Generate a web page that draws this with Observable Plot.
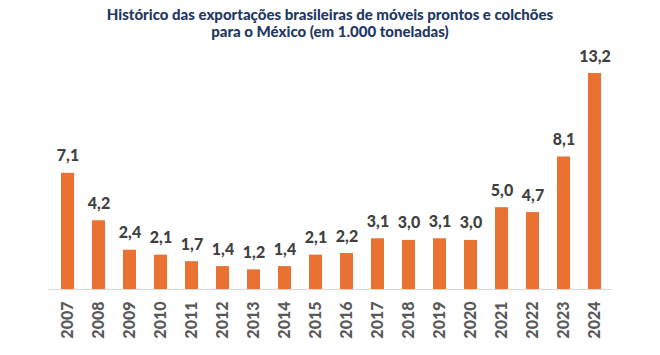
<!DOCTYPE html>
<html>
<head>
<meta charset="utf-8">
<script src="https://cdn.jsdelivr.net/npm/d3@7"></script>
<script src="https://cdn.jsdelivr.net/npm/@observablehq/plot@0.6"></script>
<style>
  html, body { margin: 0; padding: 0; background: #fff; }
  #wrap { width: 660px; height: 355px; overflow: hidden; }
  #title { height: 44px; box-sizing: border-box; padding-top: 6px; text-align: center; font-family: Lato, sans-serif; font-weight: 900; font-size: 15px; line-height: 17px; color: #1F3864; }
</style>
</head>
<body>
<div id="wrap">
  <div id="title">Histórico das exportações brasileiras de móveis prontos e colchões<br>para o México (em 1.000 toneladas)</div>
  <div id="chart"></div>
</div>
<script>
const years = ["2007","2008","2009","2010","2011","2012","2013","2014","2015","2016","2017","2018","2019","2020","2021","2022","2023","2024"];
const values = [7.1, 4.2, 2.4, 2.1, 1.7, 1.4, 1.2, 1.4, 2.1, 2.2, 3.1, 3.0, 3.1, 3.0, 5.0, 4.7, 8.1, 13.2];
const labels = ["7,1","4,2","2,4","2,1","1,7","1,4","1,2","1,4","2,1","2,2","3,1","3,0","3,1","3,0","5,0","4,7","8,1","13,2"];

const data = years.map((y, i) => ({year: y, value: values[i], label: labels[i]}));

const chart = Plot.plot({
  width: 660,
  height: 311,
  marginTop: 29,
  marginBottom: 66,
  marginLeft: 49,
  marginRight: 48,
  style: {fontFamily: "Lato, sans-serif", background: "#fff"},
  x: {domain: years, paddingInner: 0.585, paddingOuter: 0.2925, label: null},
  y: {domain: [0, 13.2], axis: null},
  marks: [
    Plot.barY(data, {x: "year", y: "value", fill: "#E97132"}),
    Plot.ruleY([0], {stroke: "#D9D9D9", strokeWidth: 1.2}),
    Plot.text(data, {x: "year", y: "value", text: "label", lineAnchor: "bottom", dy: -12, fontSize: 16, fontWeight: 900, fill: "#404040"}),
    Plot.axisX({tickSize: 0, tickPadding: 12, tickRotate: -90, fontSize: 16, fontWeight: 900, color: "#595959", label: null})
  ]
});
document.getElementById("chart").appendChild(chart);
</script>
</body>
</html>
